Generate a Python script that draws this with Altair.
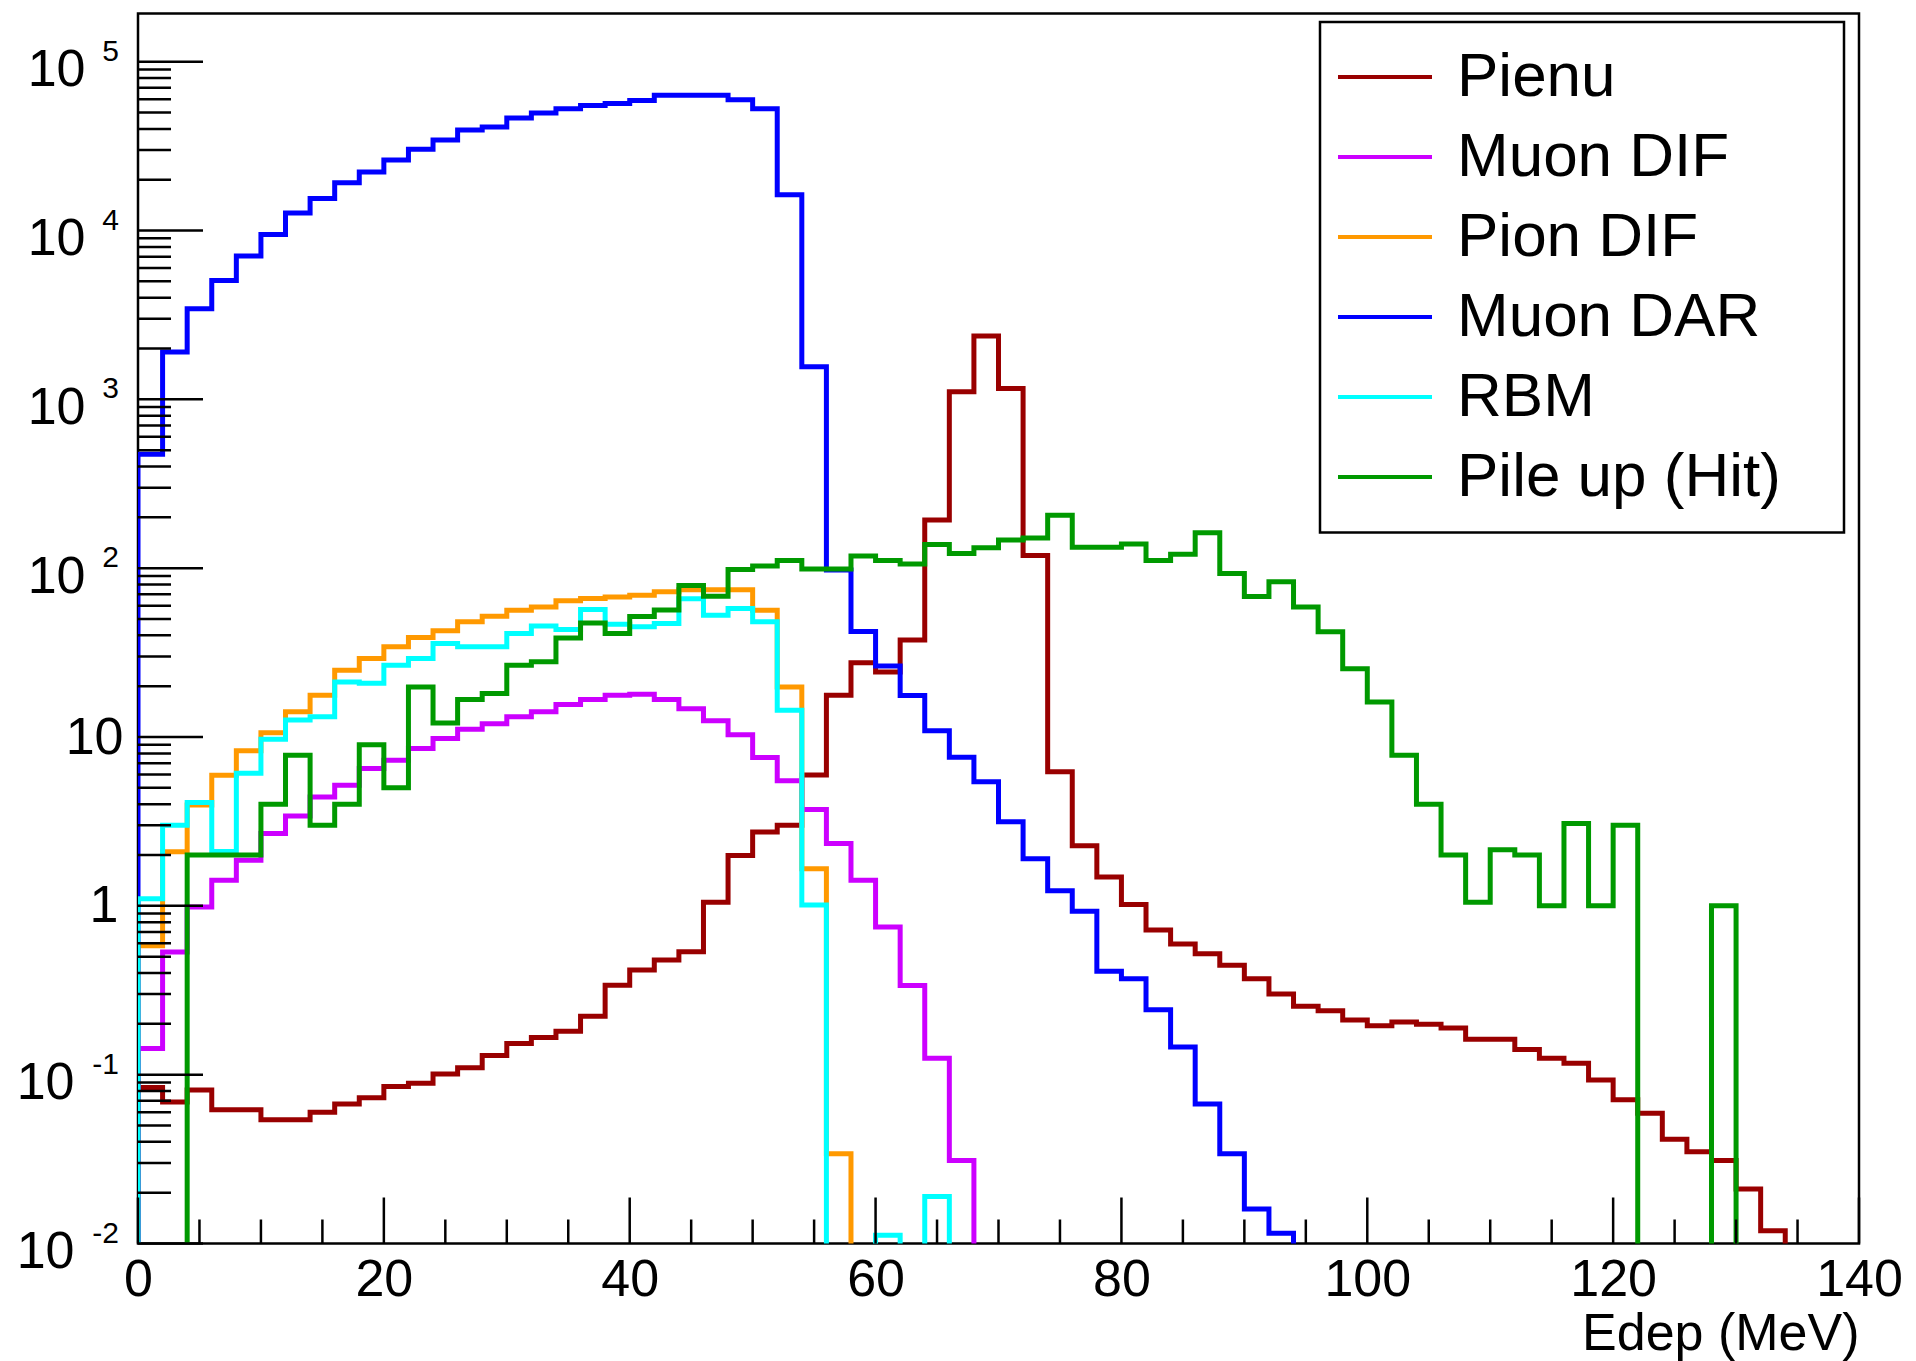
import altair as alt
import pandas as pd

# ---------------- data ----------------
bin_edges = list(range(0, 142, 2))          # 70 bins of 2 MeV, 0..140

series_names = ["Pienu", "Muon DIF", "Pion DIF", "Muon DAR", "RBM", "Pile up (Hit)"]
series_colors = ["#990000", "#cc00ff", "#ff9900", "#0000ff", "#00ffff", "#009900"]

pienu = [0.084, 0.069, 0.081, 0.062, 0.062, 0.054, 0.054, 0.060, 0.067, 0.073,
         0.085, 0.089, 0.101, 0.110, 0.130, 0.153, 0.166, 0.181, 0.222, 0.339,
         0.417, 0.477, 0.534, 1.05, 1.99, 2.74, 3.0, 5.95, 17.7, 27.5,
         24.3, 37.5, 193, 1109, 2371, 1161, 119, 6.22, 2.27, 1.48,
         1.02, 0.72, 0.595, 0.52, 0.445, 0.37, 0.30, 0.254, 0.239, 0.211,
         0.195, 0.205, 0.199, 0.189, 0.162, 0.162, 0.141, 0.125, 0.117, 0.093,
         0.071, 0.059, 0.0415, 0.035, 0.031, 0.021, 0.0119, None, None, None]

muon_dif = [0.143, 0.533, 0.986, 1.42, 1.86, 2.68, 3.40, 4.42, 5.18, 6.51,
            7.29, 8.55, 9.80, 11.1, 12.0, 13.2, 14.1, 15.6, 16.7, 17.7,
            17.9, 16.7, 14.7, 12.5, 10.3, 7.55, 5.50, 3.72, 2.34, 1.42,
            0.75, 0.338, 0.125, 0.031, None, None, None, None, None, None,
            None, None, None, None, None, None, None, None, None, None,
            None, None, None, None, None, None, None, None, None, None,
            None, None, None, None, None, None, None, None, None, None]

pion_dif = [0.58, 2.09, 3.95, 5.94, 8.28, 10.6, 14.1, 17.7, 24.9, 29.2,
            34.2, 38.8, 42.6, 48.1, 52.0, 56.4, 59.0, 64.1, 66.1, 67.5,
            69.2, 72.4, 74.5, 74.5, 74.5, 56.4, 19.8, 1.66, 0.034, None,
            None, None, None, None, None, None, None, None, None, None,
            None, None, None, None, None, None, None, None, None, None,
            None, None, None, None, None, None, None, None, None, None,
            None, None, None, None, None, None, None, None, None, None]

muon_dar = [473, 1910, 3445, 5060, 7060, 9470, 12700, 15500, 19200, 22200,
            26200, 30300, 34400, 39400, 41100, 46400, 49600, 52700, 55000, 56500,
            59000, 63300, 63300, 63300, 59500, 52700, 16300, 1560, 97.7, 42.2,
            26.3, 17.6, 10.9, 7.6, 5.43, 3.15, 1.90, 1.23, 0.93, 0.41,
            0.37, 0.242, 0.146, 0.067, 0.034, 0.016, 0.0115, None, None, None,
            None, None, None, None, None, None, None, None, None, None,
            None, None, None, None, None, None, None, None, None, None]

rbm = [1.1, 3.0, 4.1, 2.1, 6.1, 9.7, 12.6, 13.2, 21.2, 20.8,
       26.6, 29.2, 35.8, 34.2, 34.2, 41.0, 45.4, 43.4, 57.0, 46.5,
       45.0, 47.0, 66.0, 52.7, 57.7, 48.1, 14.4, 1.01, None, None,
       0.0112, None, 0.019, None, None, None, None, None, None, None,
       None, None, None, None, None, None, None, None, None, None,
       None, None, None, None, None, None, None, None, None, None,
       None, None, None, None, None, None, None, None, None, None]

pileup = [None, None, 2, 2, 2, 4, 7.8, 3, 4, 9,
          5, 19.8, 12.1, 16.7, 18.1, 26.6, 27.9, 38.6, 47.4, 41,
          51.7, 56.6, 79, 68.3, 98.3, 103, 111, 99, 99, 118,
          111, 106, 138, 122, 132, 147, 151, 206, 133, 133,
          139, 111, 121, 162, 93, 68, 83, 59, 42, 25.4,
          16.1, 7.8, 4.0, 2.0, 1.05, 2.15, 2.0, 1.0, 3.07, 1.0,
          3.0, None, None, None, 1.0, None, None, None, None, None]

series_values = [pienu, muon_dif, pion_dif, muon_dar, rbm, pileup]

# y tick labels: "10" with a raised exponent for the decades, plain "1" and "10"
y_tick_values = [0.01, 0.1, 1, 10, 100, 1000, 10000, 100000]
y_exp_values = [0.01, 0.1, 100, 1000, 10000, 100000]
y_exp_labels = ["-2", "-1", "2", "3", "4", "5"]
y_minor_mult = [2, 3, 4, 5, 6, 7, 8, 9]
x_tick_values = [0, 20, 40, 60, 80, 100, 120, 140]
x_minor_values = [5, 10, 15, 25, 30, 35, 45, 50, 55, 65, 70, 75,
                  85, 90, 95, 105, 110, 115, 125, 130, 135]

# ---------------- layout / style ----------------
W, H = 1721, 1230
Y_DOMAIN = [0.01, 1.93e5]
FLOOR = 1e-4          # empty bins are drawn below the frame and clipped
FONT = "Liberation Sans"
LEGEND_BOX = dict(x=1182, x2=1706, y=8.5, y2=519)   # legend frame, in plot pixels

# step-line vertices built from the bin contents
rows = []
for name, vals in zip(series_names, series_values):
    k = 0
    rows.append({"series": name, "x": bin_edges[0], "y": FLOOR, "k": k}); k += 1
    for i, v in enumerate(vals):
        val = FLOOR if v is None else v
        rows.append({"series": name, "x": bin_edges[i], "y": val, "k": k}); k += 1
        rows.append({"series": name, "x": bin_edges[i + 1], "y": val, "k": k}); k += 1
    rows.append({"series": name, "x": bin_edges[-1], "y": FLOOR, "k": k})
hist = pd.DataFrame(rows)

y_minor = [m * d for d in y_tick_values[:-1] for m in y_minor_mult]

xscale = alt.Scale(domain=[0, 140], nice=False, zero=False)
yscale = alt.Scale(type="log", domain=Y_DOMAIN, nice=False)

lines = alt.Chart(hist).mark_line(
    clip=True, strokeWidth=5, strokeJoin="miter", interpolate="linear"
).encode(
    x=alt.X("x:Q", scale=xscale,
            axis=alt.Axis(values=x_tick_values, ticks=False, domain=False, grid=False,
                          labelFontSize=52, labelFont=FONT, labelColor="black",
                          labelPadding=11, labelFlush=False, labelOverlap=False,
                          title="Edep (MeV)", titleFontSize=52, titleFont=FONT,
                          titleFontWeight="normal", titleColor="black",
                          titleAlign="right", titleX=W, titleY=106,
                          titleBaseline="alphabetic")),
    y=alt.Y("y:Q", scale=yscale,
            axis=alt.Axis(values=y_tick_values,
                          labelExpr="datum.value == 1 ? '1' : '10'",
                          ticks=False, domain=False, grid=False,
                          labelFontSize=52, labelFont=FONT, labelColor="black",
                          labelPadding={"condition": [
                              {"test": "datum.value < 0.5", "value": 64},
                              {"test": "datum.value > 50", "value": 53},
                              {"test": "datum.value == 1", "value": 20}],
                              "value": 15},
                          labelOffset={"condition": [
                              {"test": "datum.value < 0.5 || datum.value > 50",
                               "value": 8}],
                              "value": 0},
                          labelOverlap=False, labelFlush=False, title=None)),
    color=alt.Color("series:N",
                    scale=alt.Scale(domain=series_names, range=series_colors),
                    legend=alt.Legend(orient="none", legendX=1198, legendY=14.5,
                                      title=None, symbolType="stroke",
                                      symbolSize=8836, symbolStrokeWidth=4,
                                      labelFontSize=62, labelFont=FONT,
                                      labelColor="black", labelOffset=23,
                                      labelLimit=1000, padding=0,
                                      rowPadding=0)),
    order=alt.Order("k:Q"),
)

legend_frame = alt.Chart(pd.DataFrame({"box": [0]})).mark_rect(
    fill="white", stroke="black", strokeWidth=2.5).encode(
    x=alt.value(LEGEND_BOX["x"]), x2=alt.value(LEGEND_BOX["x2"]),
    y=alt.value(LEGEND_BOX["y"]), y2=alt.value(LEGEND_BOX["y2"]))

exps = alt.Chart(pd.DataFrame({"v": y_exp_values, "t": y_exp_labels})).mark_text(
    align="right", baseline="alphabetic", fontSize=30, font=FONT, color="black",
    dy=-1).encode(
    y=alt.Y("v:Q", scale=yscale), x=alt.value(-19), text="t:N")

ymaj = alt.Chart(pd.DataFrame({"v": y_tick_values})).mark_rule(
    color="black", strokeWidth=2.5).encode(
    y=alt.Y("v:Q", scale=yscale), x=alt.value(0), x2=alt.value(65))
ymin = alt.Chart(pd.DataFrame({"v": y_minor})).mark_rule(
    color="black", strokeWidth=2.5).encode(
    y=alt.Y("v:Q", scale=yscale), x=alt.value(0), x2=alt.value(33))
xmaj = alt.Chart(pd.DataFrame({"v": x_tick_values})).mark_rule(
    color="black", strokeWidth=2.5).encode(
    x=alt.X("v:Q", scale=xscale), y=alt.value(H), y2=alt.value(H - 46))
xmin = alt.Chart(pd.DataFrame({"v": x_minor_values})).mark_rule(
    color="black", strokeWidth=2.5).encode(
    x=alt.X("v:Q", scale=xscale), y=alt.value(H), y2=alt.value(H - 24))

chart = alt.layer(lines, ymaj, ymin, xmaj, xmin, exps, legend_frame).properties(
    width=W, height=H,
    autosize=alt.AutoSizeParams(type="none"),
    padding={"left": 130, "top": 5.5, "right": 49, "bottom": 118},
    background="white",
).configure_view(
    stroke="black", strokeWidth=2.5
)

chart.save("out.html", embed_options={"renderer": "svg", "actions": False})
